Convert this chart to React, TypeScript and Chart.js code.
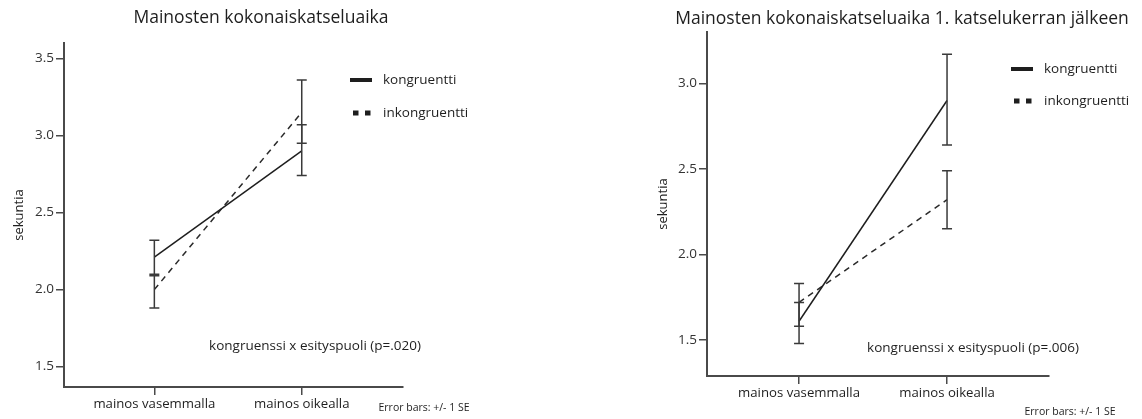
import React, { useEffect, useRef } from 'react';
import { Chart, registerables } from 'chart.js';

Chart.register(...registerables);

// ---------- data ----------
const categories = ['mainos vasemmalla', 'mainos oikealla'];
const seriesLabels = ['kongruentti', 'inkongruentti'];
const yAxisTitle = 'sekuntia';
const errorBarNote = 'Error bars: +/- 1 SE';

// left panel
const leftTitle = 'Mainosten kokonaiskatseluaika';
const leftNote = 'kongruenssi x esityspuoli (p=.020)';
const leftKong = [2.21, 2.9];
const leftKongLow = [2.1, 2.74];
const leftKongHigh = [2.32, 3.07];
const leftInkong = [2.0, 3.15];
const leftInkongLow = [1.88, 2.95];
const leftInkongHigh = [2.09, 3.36];
const leftYTicks = [1.5, 2.0, 2.5, 3.0, 3.5];

// right panel
const rightTitle = 'Mainosten kokonaiskatseluaika 1. katselukerran jälkeen';
const rightNote = 'kongruenssi x esityspuoli (p=.006)';
const rightKong = [1.61, 2.9];
const rightKongLow = [1.48, 2.64];
const rightKongHigh = [1.72, 3.17];
const rightInkong = [1.72, 2.32];
const rightInkongLow = [1.58, 2.15];
const rightInkongHigh = [1.83, 2.49];
const rightYTicks = [1.5, 2.0, 2.5, 3.0];

// ---------- layout / style ----------
const W = 571;
const H = 419;
const FONT = "'Open Sans', 'Noto Sans', sans-serif";
const INK = '#1e1e1e';
const AXIS = '#4a4a4a';

const leftLayout = {
  yMin: 1.368, yMax: 3.6, xMin: -0.613, xMax: 1.687,
  area: { left: 64, right: 403, top: 43, bottom: 387 },
  titleX: 261, titleY: 18,
  legendX: 350, legendY1: 80, legendY2: 113,
  noteX: 315, noteY: 346,
  errX: 424, errY: 408,
  yTitlePad: 11,
};
const rightLayout = {
  yMin: 1.29, yMax: 3.3, xMin: -0.622, xMax: 1.689,
  area: { left: 136, right: 478, top: 32, bottom: 376 },
  titleX: 331, titleY: 19,
  legendX: 440, legendY1: 69, legendY2: 101,
  noteX: 402, noteY: 348,
  errX: 499, errY: 412,
  yTitlePad: 84,
};

const errorBarsPlugin = {
  id: 'errorBars',
  afterDatasetsDraw(chart: any) {
    const ctx = chart.ctx;
    const xs = chart.scales.x;
    const ys = chart.scales.y;
    ctx.save();
    ctx.strokeStyle = '#3a3a3a';
    ctx.lineWidth = 1.5;
    chart.data.datasets.forEach((ds: any) => {
      ds.data.forEach((p: any, i: number) => {
        const x = xs.getPixelForValue(p.x);
        const yl = ys.getPixelForValue(ds.errLow[i]);
        const yh = ys.getPixelForValue(ds.errHigh[i]);
        ctx.beginPath();
        ctx.moveTo(x, yl);
        ctx.lineTo(x, yh);
        ctx.moveTo(x - 5, yl);
        ctx.lineTo(x + 5, yl);
        ctx.moveTo(x - 5, yh);
        ctx.lineTo(x + 5, yh);
        ctx.stroke();
      });
    });
    ctx.restore();
  },
};

const decorPlugin = {
  id: 'decor',
  afterDraw(chart: any, _args: any, opts: any) {
    const L = opts.layout;
    const ctx = chart.ctx;
    ctx.save();
    ctx.fillStyle = INK;
    ctx.textBaseline = 'middle';
    // title
    ctx.font = `17.5px ${FONT}`;
    ctx.textAlign = 'center';
    ctx.fillText(opts.title, L.titleX, L.titleY);
    // legend
    ctx.fillRect(L.legendX, L.legendY1 - 2, 22, 4);
    ctx.fillRect(L.legendX + 3, L.legendY2 - 2.5, 5.5, 5);
    ctx.fillRect(L.legendX + 15, L.legendY2 - 2.5, 5.5, 5);
    ctx.font = `13.5px ${FONT}`;
    ctx.textAlign = 'left';
    ctx.fillText(seriesLabels[0], L.legendX + 33, L.legendY1);
    ctx.fillText(seriesLabels[1], L.legendX + 33, L.legendY2);
    // note
    ctx.textAlign = 'center';
    ctx.fillText(opts.note, L.noteX, L.noteY);
    // error bar note
    ctx.font = `10.5px ${FONT}`;
    ctx.fillText(errorBarNote, L.errX, L.errY);
    ctx.restore();
  },
};

function buildConfig(p: any, L: any) {
  return {
    type: 'line',
    data: {
      datasets: [
        {
          label: seriesLabels[0],
          data: p.kong.map((v: number, i: number) => ({ x: i, y: v })),
          errLow: p.kongLow,
          errHigh: p.kongHigh,
          borderColor: INK,
          borderWidth: 1.5,
          pointRadius: 0,
          fill: false,
          tension: 0,
        },
        {
          label: seriesLabels[1],
          data: p.inkong.map((v: number, i: number) => ({ x: i, y: v })),
          errLow: p.inkongLow,
          errHigh: p.inkongHigh,
          borderColor: '#2a2a2a',
          borderWidth: 1.5,
          borderDash: [6, 5],
          pointRadius: 0,
          fill: false,
          tension: 0,
        },
      ],
    },
    options: {
      responsive: false,
      maintainAspectRatio: false,
      animation: false,
      layout: {
        padding: { left: 0, top: L.area.top, right: W - L.area.right, bottom: 0 },
      },
      plugins: {
        legend: { display: false },
        tooltip: { enabled: false },
        decor: { layout: L, title: p.title, note: p.note },
      },
      scales: {
        x: {
          type: 'linear',
          min: L.xMin,
          max: L.xMax,
          afterBuildTicks: (s: any) => {
            s.ticks = categories.map((_c, i) => ({ value: i }));
          },
          afterFit: (s: any) => {
            s.height = H - L.area.bottom;
          },
          grid: {
            drawOnChartArea: false,
            drawTicks: true,
            tickLength: 8,
            color: AXIS,
            lineWidth: 1.5,
          },
          border: { display: true, color: AXIS, width: 2 },
          ticks: {
            autoSkip: false,
            maxRotation: 0,
            padding: 1,
            color: INK,
            font: { family: FONT, size: 13.2 },
            callback: (v: any) => categories[v] ?? '',
          },
        },
        y: {
          type: 'linear',
          min: L.yMin,
          max: L.yMax,
          afterBuildTicks: (s: any) => {
            s.ticks = p.yTicks.map((v: number) => ({ value: v }));
          },
          afterFit: (s: any) => {
            s.width = L.area.left;
          },
          grid: {
            drawOnChartArea: false,
            drawTicks: true,
            tickLength: 8,
            color: AXIS,
            lineWidth: 1.5,
          },
          border: { display: true, color: AXIS, width: 2 },
          ticks: {
            padding: 2,
            color: '#333',
            font: { family: FONT, size: 13.5 },
            callback: (v: any) => Number(v).toFixed(1),
          },
          title: {
            display: true,
            text: yAxisTitle,
            color: INK,
            font: { family: FONT, size: 13 },
            padding: { top: L.yTitlePad, bottom: 0 },
          },
        },
      },
    },
    plugins: [errorBarsPlugin, decorPlugin],
  } as any;
}

const leftPanel = {
  title: leftTitle, note: leftNote,
  kong: leftKong, kongLow: leftKongLow, kongHigh: leftKongHigh,
  inkong: leftInkong, inkongLow: leftInkongLow, inkongHigh: leftInkongHigh,
  yTicks: leftYTicks,
};
const rightPanel = {
  title: rightTitle, note: rightNote,
  kong: rightKong, kongLow: rightKongLow, kongHigh: rightKongHigh,
  inkong: rightInkong, inkongLow: rightInkongLow, inkongHigh: rightInkongHigh,
  yTicks: rightYTicks,
};

export default function App() {
  const leftRef = useRef<HTMLCanvasElement>(null);
  const rightRef = useRef<HTMLCanvasElement>(null);

  useEffect(() => {
    const c1 = new Chart(leftRef.current as HTMLCanvasElement, buildConfig(leftPanel, leftLayout));
    const c2 = new Chart(rightRef.current as HTMLCanvasElement, buildConfig(rightPanel, rightLayout));
    return () => {
      c1.destroy();
      c2.destroy();
    };
  }, []);

  return (
    <div style={{ position: 'absolute', left: 0, top: 0, width: 1142, height: 419, background: '#fff', overflow: 'hidden' }}>
      <canvas ref={leftRef} width={W} height={H} style={{ position: 'absolute', left: 0, top: 0, width: W, height: H }} />
      <canvas ref={rightRef} width={W} height={H} style={{ position: 'absolute', left: W, top: 0, width: W, height: H }} />
    </div>
  );
}
